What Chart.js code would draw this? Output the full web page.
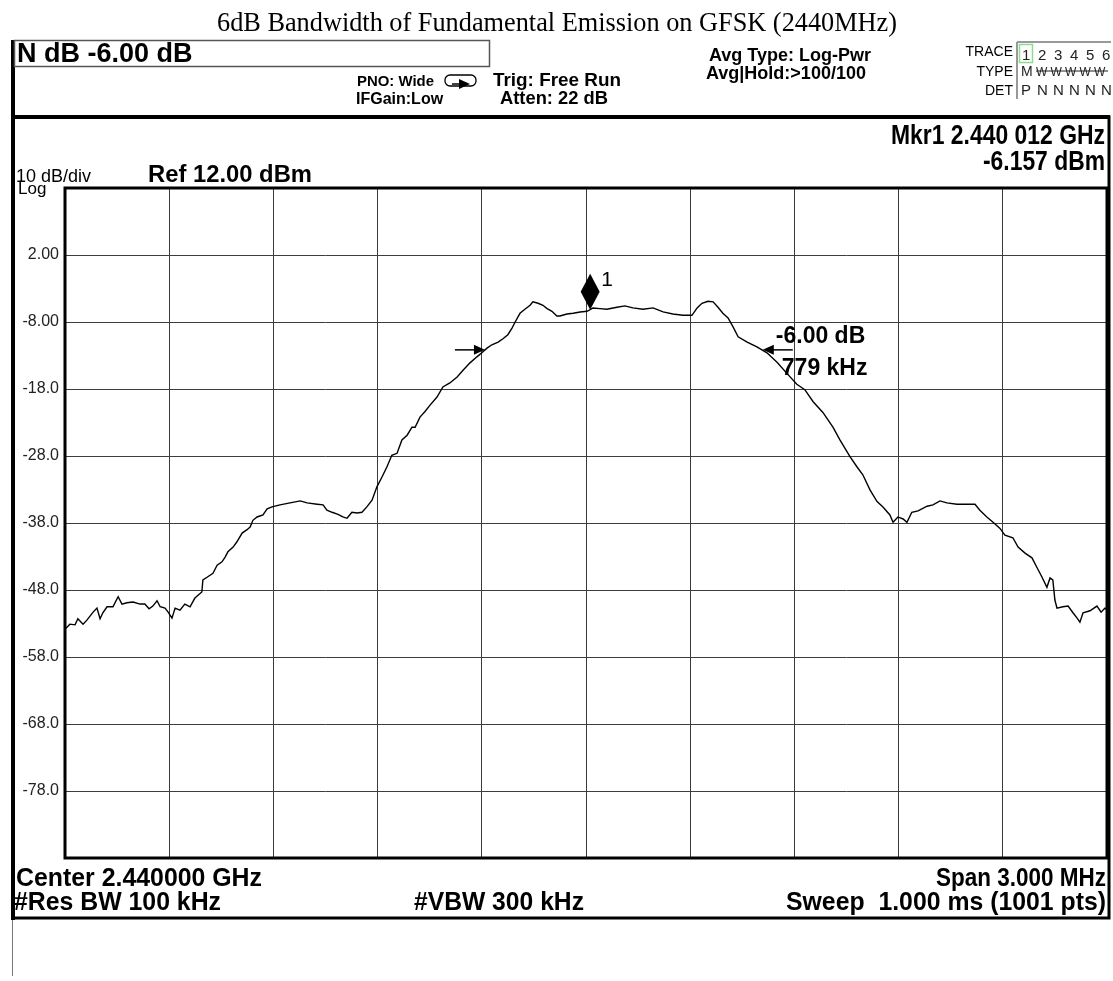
<!DOCTYPE html>
<html>
<head>
<meta charset="utf-8">
<script src="https://cdn.jsdelivr.net/npm/chart.js@4.4.1/dist/chart.umd.min.js"></script>
<style>
  html, body { margin: 0; padding: 0; background: #fff; }
  #wrap { width: 1113px; height: 981px; }
</style>
</head>
<body>
<div id="wrap"><canvas id="sa" width="1113" height="981"></canvas></div>
<script>
"use strict";

const freqKHz = [
  -1500, -1497, -1486, -1471, -1463, -1448, -1437, -1419, -1408, -1399,
  -1391, -1379, -1362, -1347, -1336, -1322, -1304, -1284, -1270, -1258,
  -1247, -1235, -1226, -1212, -1203, -1192, -1183, -1169, -1155, -1140,
  -1126, -1106, -1103, -1091, -1074, -1062, -1048, -1039, -1031, -1016,
  -1005, -990, -976, -967, -959, -947, -930, -918, -904, -881,
  -852, -823, -803, -774, -757, -746, -731, -714, -700, -688,
  -674, -659, -645, -631, -616, -602, -587, -573, -559, -544,
  -530, -515, -501, -492, -478, -464, -449, -429, -412, -392,
  -371, -354, -334, -314, -300, -285, -271, -253, -239, -225,
  -213, -204, -190, -176, -161, -153, -138, -124, -112, -98,
  -84, -75, -55, -37, -17, 3, 12, 20, 40, 60,
  89, 112, 135, 164, 193, 222, 250, 279, 305, 320,
  334, 351, 366, 380, 394, 409, 423, 438, 464, 492,
  521, 550, 579, 607, 630, 654, 682, 711, 731, 760,
  780, 797, 818, 838, 855, 875, 884, 898, 913, 924,
  938, 956, 982, 999, 1019, 1039, 1068, 1097, 1120, 1134,
  1154, 1172, 1192, 1206, 1229, 1244, 1264, 1284, 1298, 1313,
  1327, 1336, 1344, 1350, 1356, 1373, 1388, 1402, 1414, 1422,
  1431, 1451, 1471, 1483, 1494, 1500,
];
const levelDbm = [
  -53.8, -53.7, -53.1, -53.2, -52.3, -53.1, -52.5, -51.3, -50.7, -52.3,
  -51.4, -50.5, -50.5, -49.0, -50.1, -49.9, -49.8, -50.1, -50.1, -50.8,
  -50.4, -49.6, -50.5, -50.7, -51.3, -52.2, -50.7, -51.0, -50.1, -50.5,
  -49.2, -48.3, -46.5, -46.1, -45.5, -44.3, -43.8, -43.1, -42.3, -41.6,
  -40.8, -39.5, -39.0, -38.6, -37.6, -37.1, -36.8, -35.9, -35.6, -35.3,
  -35.0, -34.7, -35.0, -35.2, -35.3, -36.1, -36.4, -36.7, -37.1, -37.3,
  -36.4, -36.5, -36.4, -35.6, -34.6, -32.6, -31.1, -29.6, -27.9, -27.6,
  -25.6, -24.9, -23.7, -23.7, -22.2, -21.4, -20.4, -19.2, -17.7, -17.1,
  -16.2, -15.2, -14.1, -13.2, -12.6, -11.9, -11.4, -11.0, -10.5, -9.9,
  -8.9, -8.0, -6.7, -6.1, -5.5, -5.0, -5.2, -5.5, -6.0, -6.4,
  -7.1, -7.1, -6.8, -6.7, -6.5, -6.4, -6.16, -5.9, -6.0, -6.1,
  -5.8, -5.6, -5.9, -6.1, -5.9, -6.5, -6.8, -7.0, -7.0, -5.9,
  -5.2, -4.9, -5.0, -5.8, -6.7, -7.4, -8.7, -10.2, -11.0, -11.7,
  -12.6, -14.0, -15.7, -17.3, -18.1, -19.9, -21.5, -23.7, -25.6, -28.1,
  -29.6, -30.8, -33.1, -34.8, -35.6, -36.8, -37.9, -37.1, -37.4, -37.9,
  -36.4, -36.2, -35.5, -35.3, -34.7, -35.0, -35.2, -35.2, -35.2, -36.1,
  -37.1, -37.9, -38.8, -39.8, -40.2, -41.6, -42.5, -43.2, -44.6, -46.1,
  -47.6, -46.2, -46.5, -49.5, -50.7, -50.5, -50.4, -51.4, -52.2, -52.8,
  -51.4, -51.1, -50.4, -51.3, -50.7, -50.9,
];

const xGridKHz   = [-1500, -1200, -900, -600, -300, 0, 300, 600, 900, 1200, 1500];
const yGridDbm   = [12, 2, -8, -18, -28, -38, -48, -58, -68, -78, -88];
const yTickLabels = ["", "2.00", "-8.00", "-18.0", "-28.0", "-38.0", "-48.0", "-58.0", "-68.0", "-78.0", ""];

const markerKHz = 12;
const markerDbm = -6.157;
const ndbLeftKHz  = -291;
const ndbRightKHz = 509;
const ndbLevelDbm = -12.16;

const SANS  = "'Liberation Sans', Arial, sans-serif";
const SERIF = "'Liberation Serif', 'Times New Roman', serif";

function put(ctx, s, x, y, size, { bold = false, align = "left", family = SANS, color = "#000", fit = 0 } = {}) {
  ctx.font = `${bold ? "bold " : ""}${size}px ${family}`;
  ctx.textAlign = align;
  ctx.textBaseline = "alphabetic";
  ctx.fillStyle = color;
  if (fit) ctx.fillText(s, x, y, fit);
  else ctx.fillText(s, x, y);
}

function line(ctx, x1, y1, x2, y2, w = 1, color = "#000") {
  ctx.beginPath();
  ctx.moveTo(x1, y1);
  ctx.lineTo(x2, y2);
  ctx.lineWidth = w;
  ctx.strokeStyle = color;
  ctx.stroke();
}

function arrowHead(ctx, tipX, tipY, dir) {
  ctx.beginPath();
  ctx.moveTo(tipX, tipY);
  ctx.lineTo(tipX - dir * 11, tipY - 5);
  ctx.lineTo(tipX - dir * 11, tipY + 5);
  ctx.closePath();
  ctx.fillStyle = "#000";
  ctx.fill();
}

const analyzerFrame = {
  id: "analyzerFrame",
  beforeDraw(chart) {
    const ctx = chart.ctx;
    ctx.save();
    ctx.fillStyle = "#fff";
    ctx.fillRect(0, 0, chart.width, chart.height);
    ctx.restore();
  },
  afterDatasetsDraw(chart) {
    const ctx = chart.ctx;
    const { left, top, right, bottom } = chart.chartArea;
    const xs = chart.scales.x, ys = chart.scales.y;
    ctx.save();

    // plot border
    ctx.lineWidth = 3;
    ctx.strokeStyle = "#000";
    ctx.strokeRect(left, top, right - left, bottom - top);

    // y tick labels
    yGridDbm.forEach((v, i) => {
      if (!yTickLabels[i]) return;
      ctx.font = `16px ${SANS}`;
      ctx.textAlign = "right";
      ctx.textBaseline = "middle";
      ctx.fillStyle = "#222";
      ctx.fillText(yTickLabels[i], left - 6, ys.getPixelForValue(v));
    });

    // marker 1
    const mx = xs.getPixelForValue(markerKHz);
    const my = ys.getPixelForValue(markerDbm);
    ctx.beginPath();
    ctx.moveTo(mx, my);
    ctx.lineTo(mx + 9.5, my - 18);
    ctx.lineTo(mx, my - 36);
    ctx.lineTo(mx - 9.5, my - 18);
    ctx.closePath();
    ctx.fillStyle = "#000";
    ctx.fill();
    put(ctx, "1", mx + 11, my - 24, 21);

    // n dB bandwidth arrows
    const ny = ys.getPixelForValue(ndbLevelDbm);
    const lx = xs.getPixelForValue(ndbLeftKHz);
    const rx = xs.getPixelForValue(ndbRightKHz);
    line(ctx, lx - 30, ny, lx - 4, ny, 1.5);
    arrowHead(ctx, lx, ny, 1);
    line(ctx, rx + 4, ny, rx + 30, ny, 1.5);
    arrowHead(ctx, rx, ny, -1);
    put(ctx, "-6.00 dB", rx + 13, ny - 7, 23, { bold: true, fit: 95 });
    put(ctx, "779 kHz", rx + 19, ny + 25, 23, { bold: true, fit: 90 });

    ctx.restore();
  },
  afterDraw(chart) {
    const ctx = chart.ctx;
    ctx.save();

    put(ctx, "6dB Bandwidth of Fundamental Emission on GFSK (2440MHz)", 557, 31, 26.3, { family: SERIF, align: "center", fit: 682 });

    // outer frame
    line(ctx, 13, 40, 13, 920, 4);
    ctx.lineWidth = 3;
    ctx.strokeStyle = "#000";
    ctx.strokeRect(13, 117, 1096, 801);
    line(ctx, 12.5, 920, 12.5, 976, 1, "#777");

    // N dB box
    ctx.lineWidth = 1.5;
    ctx.strokeStyle = "#555";
    ctx.strokeRect(14.5, 40.5, 475, 26);
    put(ctx, "N dB -6.00 dB", 17, 62, 27, { bold: true, fit: 180 });

    put(ctx, "PNO: Wide", 357, 86, 15, { bold: true, fit: 77 });
    put(ctx, "IFGain:Low", 356, 104, 16, { bold: true, fit: 90 });
    // trigger icon
    ctx.lineWidth = 1.3;
    ctx.strokeStyle = "#000";
    ctx.beginPath();
    ctx.roundRect(445, 75, 31, 11, 5);
    ctx.stroke();
    line(ctx, 452, 84, 466, 84, 1.5);
    arrowHead(ctx, 470, 84, 1);

    put(ctx, "Trig: Free Run", 493, 86, 19, { bold: true, fit: 128 });
    put(ctx, "Atten: 22 dB", 500, 104, 19, { bold: true, fit: 108 });
    put(ctx, "Avg Type: Log-Pwr", 709, 61, 18, { bold: true, fit: 168 });
    put(ctx, "Avg|Hold:>100/100", 706, 79, 18, { bold: true, fit: 162 });

    // trace / type / det block
    put(ctx, "TRACE", 1013, 56, 14, { align: "right" });
    put(ctx, "TYPE", 1013, 76, 14, { align: "right" });
    put(ctx, "DET", 1013, 95, 14, { align: "right" });
    line(ctx, 1017, 42, 1017, 99, 2, "#999");
    line(ctx, 1017, 42, 1111, 42, 2, "#999");
    ctx.lineWidth = 1.5;
    ctx.strokeStyle = "#8fdc8f";
    ctx.strokeRect(1019.5, 44.5, 13, 18);
    ["1", "2", "3", "4", "5", "6"].forEach((d, i) => put(ctx, d, 1022 + i * 16, 60, 15, { color: "#222" }));
    put(ctx, "M", 1021, 76, 14, { color: "#222" });
    for (let i = 0; i < 5; i++) put(ctx, "W", 1036 + i * 14.5, 76, 12, { color: "#222", fit: 14 });
    line(ctx, 1036, 71, 1108, 71, 1, "#222");
    ["P", "N", "N", "N", "N", "N"].forEach((d, i) => put(ctx, d, 1021 + i * 16, 95, 15, { color: "#222" }));

    line(ctx, 13, 117, 1110, 117, 4);

    put(ctx, "Mkr1 2.440 012 GHz", 1105, 144, 28, { bold: true, align: "right", fit: 214 });
    put(ctx, "-6.157 dBm", 1105, 170, 28, { bold: true, align: "right", fit: 122 });
    put(ctx, "10 dB/div", 16, 182, 18, { fit: 80 });
    put(ctx, "Log", 18, 194, 17, { fit: 30 });
    put(ctx, "Ref 12.00 dBm", 148, 182, 24, { bold: true, fit: 164 });

    put(ctx, "Center 2.440000 GHz", 16, 886, 25, { bold: true, fit: 246 });
    put(ctx, "Span 3.000 MHz", 1106, 886, 25, { bold: true, align: "right", fit: 170 });
    put(ctx, "#Res BW 100 kHz", 14, 910, 25, { bold: true, fit: 207 });
    put(ctx, "#VBW 300 kHz", 414, 910, 25, { bold: true, fit: 170 });
    put(ctx, "Sweep  1.000 ms (1001 pts)", 1106, 910, 25, { bold: true, align: "right", fit: 320 });

    ctx.restore();
  },
};

function gridScale(min, max, ticks) {
  return {
    type: "linear",
    min,
    max,
    afterBuildTicks: (scale) => { scale.ticks = ticks.map((v) => ({ value: v })); },
    ticks: { display: false },
    grid: { color: "#3c3c3c", lineWidth: 1, drawTicks: false },
    border: { display: false },
  };
}

new Chart(document.getElementById("sa"), {
  type: "line",
  data: {
    datasets: [{
      label: "Trace 1",
      data: freqKHz.map((f, i) => ({ x: f, y: levelDbm[i] })),
      borderColor: "#000",
      borderWidth: 1.4,
      pointRadius: 0,
      tension: 0,
      fill: false,
    }],
  },
  options: {
    responsive: false,
    animation: false,
    devicePixelRatio: 1,
    layout: { padding: { left: 65, top: 188, right: 6, bottom: 123 } },
    plugins: { legend: { display: false }, tooltip: { enabled: false } },
    scales: {
      x: gridScale(-1500, 1500, xGridKHz),
      y: gridScale(-88, 12, yGridDbm),
    },
  },
  plugins: [analyzerFrame],
});
</script>
</body>
</html>
